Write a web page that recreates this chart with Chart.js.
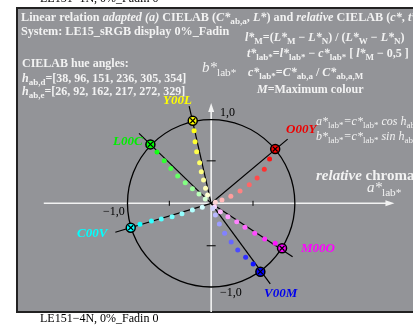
<!DOCTYPE html>
<html>
<head>
<meta charset="utf-8">
<script src="https://cdn.jsdelivr.net/npm/chart.js@4"></script>
<style>
  html, body { margin: 0; padding: 0; background: #ffffff; }
  canvas { display: block; }
</style>
</head>
<body>
<canvas id="chart" width="413" height="325"></canvas>
<script>
'use strict'
// hue names and colours
const hueNames = ['O00Y', 'Y00L', 'L00C', 'C00V', 'V00M', 'M00O'];
const hueColors = ['#ff0000', '#ffff00', '#00ff00', '#00ffff', '#0000ff', '#ff00ff'];
const labelColors = ['#ee0000', '#ffff00', '#00ee00', '#00ffff', '#0000ee', '#ff00ff'];

// maximum colour on the unit circle (a*lab*, b*lab*)
const markerA = [0.765, -0.220, -0.726, -0.961, 0.588, 0.847];
const markerB = [0.639, 0.972, 0.694, -0.287, -0.805, -0.529];
// black hue lines from the centre
const rayEndA = [0.914, -0.263, -0.862, -1.145, 0.706, 0.973];
const rayEndB = [0.756, 1.145, 0.824, -0.341, -0.949, -0.628];

// coloured steps, outer to inner
const dotA = [
  [0.698, 0.635, 0.549, 0.455, 0.345, 0.235, 0.129, 0.050],
  [-0.204, -0.192, -0.173, -0.138, -0.118, -0.091, -0.067, -0.043],
  [-0.647, -0.561, -0.482, -0.400, -0.310, -0.224, -0.145, -0.070],
  [-0.851, -0.714, -0.596, -0.467, -0.349, -0.224, -0.106],
  [0.502, 0.412, 0.318, 0.239, 0.161, 0.098, 0.051, 0.020],
  [0.765, 0.639, 0.521, 0.404, 0.306, 0.200, 0.110, 0.040]
];
const dotB = [
  [0.521, 0.400, 0.298, 0.219, 0.145, 0.082, 0.039, 0.012],
  [0.854, 0.725, 0.607, 0.478, 0.372, 0.274, 0.176, 0.098],
  [0.604, 0.501, 0.411, 0.321, 0.242, 0.172, 0.109, 0.050],
  [-0.247, -0.208, -0.185, -0.157, -0.122, -0.079, -0.047],
  [-0.714, -0.635, -0.549, -0.455, -0.353, -0.243, -0.138, -0.060],
  [-0.471, -0.420, -0.353, -0.282, -0.216, -0.157, -0.098, -0.040]
];

// axis extents and ticks
const axisA = [-2.0, 2.19];
const axisB = [-1.28, 1.18];
const tickVals = [-0.5, 0.5];

const SERIF = "'Liberation Serif', 'DejaVu Serif', serif";
const LIGHT = '#f2f2f2';

//==================================================================================================

// hex -> mixed with white
function mixWhite(hex, f){
  const r = parseInt(hex.slice(1, 3), 16);
  const g = parseInt(hex.slice(3, 5), 16);
  const b = parseInt(hex.slice(5, 7), 16);
  const m = (c) => Math.round(c + (255 - c) * f);
  return 'rgb(' + m(r) + ',' + m(g) + ',' + m(b) + ')';
}

// text with italic / bold / subscript pieces
function rich(ctx, x, y, parts, size, color){
  ctx.fillStyle = color;
  ctx.textBaseline = 'alphabetic';
  ctx.textAlign = 'left';
  let cx = x;
  parts.forEach((p) => {
    const text = p[0];
    const f = p[1] || '';
    const sub = f.includes('s');
    const sz = sub ? size * 0.75 : size;
    ctx.font = (f.includes('i') ? 'italic ' : '') + (f.includes('b') ? 'bold ' : '') + sz + 'px ' + SERIF;
    ctx.fillText(text, cx, sub ? y + size * 0.28 : y);
    cx += ctx.measureText(text).width;
  });
}

//==================================================================================================

let datasets = [];

// black hue lines
hueNames.forEach((name, i) => {
  datasets.push({
    label: name + ' line',
    data: [{x: 0, y: 0}, {x: rayEndA[i], y: rayEndB[i]}],
    showLine: true,
    borderColor: '#000000',
    borderWidth: 1.2,
    pointRadius: 0,
    order: 5
  });
});

// coloured steps
hueNames.forEach((name, i) => {
  const n = dotA[i].length;
  datasets.push({
    label: name + ' steps',
    data: dotA[i].map((a, k) => ({x: a, y: dotB[i][k]})),
    showLine: false,
    pointRadius: 2.5,
    pointBorderWidth: 0,
    pointBackgroundColor: (c) => mixWhite(hueColors[i], 0.08 + 0.75 * (c.dataIndex / (n - 1))),
    order: 3
  });
});

// maximum colour markers
datasets.push({
  label: 'markers',
  data: markerA.map((a, i) => ({x: a, y: markerB[i]})),
  showLine: false,
  pointRadius: 4.5,
  pointBorderWidth: 1.5,
  pointBorderColor: '#000000',
  pointBackgroundColor: hueColors,
  order: 1
});
datasets.push({
  label: 'marker cross',
  data: markerA.map((a, i) => ({x: a, y: markerB[i]})),
  showLine: false,
  pointStyle: 'crossRot',
  pointRadius: 3.5,
  pointBorderWidth: 1.2,
  pointBorderColor: '#000000',
  order: 0
});

//==================================================================================================

const framePlugin = {
  id: 'frame',
  beforeDraw(chart){
    const ctx = chart.ctx;
    const area = chart.chartArea;
    ctx.save();
    ctx.fillStyle = '#ffffff';
    ctx.fillRect(0, 0, chart.width, chart.height);
    ctx.fillStyle = '#939498';
    ctx.fillRect(area.left, area.top, chart.width - area.left, area.bottom - area.top);
    // frame on left, top and bottom only (right side is cut off)
    ctx.strokeStyle = '#222222';
    ctx.lineWidth = 2;
    ctx.beginPath();
    ctx.moveTo(chart.width + 2, area.top);
    ctx.lineTo(area.left, area.top);
    ctx.lineTo(area.left, area.bottom);
    ctx.lineTo(chart.width + 2, area.bottom);
    ctx.stroke();
    ctx.restore();
  },
  beforeDatasetsDraw(chart){
    const ctx = chart.ctx;
    const xs = chart.scales.x;
    const ys = chart.scales.y;
    const x0 = xs.getPixelForValue(0);
    const y0 = ys.getPixelForValue(0);
    const unit = xs.getPixelForValue(1) - x0;
    ctx.save();
    // white axes with arrows
    ctx.strokeStyle = LIGHT;
    ctx.fillStyle = LIGHT;
    ctx.lineWidth = 1.6;
    const xr = xs.getPixelForValue(axisA[1]);
    const yt = ys.getPixelForValue(axisB[1]);
    ctx.beginPath();
    ctx.moveTo(xs.getPixelForValue(axisA[0]), y0);
    ctx.lineTo(xr - 6, y0);
    ctx.moveTo(x0, ys.getPixelForValue(axisB[0]));
    ctx.lineTo(x0, yt + 6);
    ctx.stroke();
    ctx.beginPath();
    ctx.moveTo(xr, y0);
    ctx.lineTo(xr - 9, y0 - 3);
    ctx.lineTo(xr - 9, y0 + 3);
    ctx.closePath();
    ctx.moveTo(x0, yt);
    ctx.lineTo(x0 - 3, yt + 9);
    ctx.lineTo(x0 + 3, yt + 9);
    ctx.closePath();
    ctx.fill();
    // ticks
    ctx.strokeStyle = '#000000';
    ctx.lineWidth = 1;
    ctx.beginPath();
    tickVals.forEach((v) => {
      const px = xs.getPixelForValue(v);
      ctx.moveTo(px, y0 - 2.5);
      ctx.lineTo(px, y0 + 2.5);
      const py = ys.getPixelForValue(v);
      ctx.moveTo(x0 - 4.5, py);
      ctx.lineTo(x0 + 4.5, py);
    });
    ctx.stroke();
    // unit circle
    ctx.lineWidth = 1.3;
    ctx.beginPath();
    ctx.arc(x0, y0, unit, 0, Math.PI * 2);
    ctx.stroke();
    ctx.restore();
  },
  afterDraw(chart){
    const ctx = chart.ctx;
    ctx.save();
    // page captions
    rich(ctx, 40, 2, [['LE151−1N, 0%_Fadin 0']], 12, '#000000');
    rich(ctx, 40, 322, [['LE151−4N, 0%_Fadin 0']], 12, '#000000');

    rich(ctx, 21, 21, [['Linear relation ', 'b'], ['adapted (a)', 'bi'], [' CIELAB (', 'b'], ['C*', 'bi'], ['ab,a', 'bs'],
      [', ', 'b'], ['L*', 'bi'], [') and ', 'b'], ['relative', 'bi'], [' CIELAB (', 'b'], ['c*', 'bi'], [', ', 'b'],
      ['t*', 'bi'], ['lab*', 'bs'], [')', 'b']], 12.2, LIGHT);
    rich(ctx, 21, 35, [['System: LE15_sRGB display 0%_Fadin', 'b']], 12.2, LIGHT);

    rich(ctx, 245, 41, [['l*', 'bi'], ['M', 'bs'], ['=(', 'b'], ['L*', 'bi'], ['M', 'bs'], [' − ', 'b'], ['L*', 'bi'], ['N', 'bs'],
      [') / (', 'b'], ['L*', 'bi'], ['W', 'bs'], [' − ', 'b'], ['L*', 'bi'], ['N', 'bs'], [')', 'b']], 12, LIGHT);
    rich(ctx, 247, 57, [['t*', 'bi'], ['lab*', 'bs'], ['=', 'b'], ['l*', 'bi'], ['lab*', 'bs'], [' − ', 'b'], ['c*', 'bi'], ['lab*', 'bs'],
      [' [ ', 'b'], ['l*', 'bi'], ['M', 'bs'], [' − 0,5 ]', 'b']], 12, LIGHT);
    rich(ctx, 248, 76, [['c*', 'bi'], ['lab*', 'bs'], ['=', 'b'], ['C*', 'bi'], ['ab,a', 'bs'], [' / ', 'b'], ['C*', 'bi'], ['ab,a,M', 'bs']], 12, LIGHT);
    rich(ctx, 257, 93, [['M', 'bi'], ['=Maximum colour', 'b']], 12, LIGHT);

    rich(ctx, 202, 72, [['b*', 'i'], ['lab*', 's']], 15, LIGHT);

    rich(ctx, 22, 67, [['CIELAB hue angles:', 'b']], 12, LIGHT);
    rich(ctx, 22, 82, [['h', 'bi'], ['ab,d', 'bs'], ['=[38, 96, 151, 236, 305, 354]', 'b']], 12, LIGHT);
    rich(ctx, 22, 95, [['h', 'bi'], ['ab,e', 'bs'], ['=[26, 92, 162, 217, 272, 329]', 'b']], 12, LIGHT);

    rich(ctx, 316, 125, [['a*', 'i'], ['lab*', 's'], ['=', 'i'], ['c*', 'i'], ['lab*', 's'], [' cos ', 'i'], ['h', 'i'], ['ab', 's']], 12, LIGHT);
    rich(ctx, 316, 140, [['b*', 'i'], ['lab*', 's'], ['=', 'i'], ['c*', 'i'], ['lab*', 's'], [' sin ', 'i'], ['h', 'i'], ['ab', 's']], 12, LIGHT);
    rich(ctx, 316, 180, [['relative', 'bi'], [' chroma', 'b']], 15, LIGHT);
    rich(ctx, 367, 192, [['a*', 'i'], ['lab*', 's']], 15, LIGHT);

    // tick labels
    rich(ctx, 220, 116, [['1,0']], 12, '#000000');
    rich(ctx, 103, 215, [['−1,0']], 12, '#000000');
    rich(ctx, 220, 296, [['−1,0']], 12, '#000000');

    // hue names
    const namePos = [[286, 133], [163, 104], [113, 145], [77, 237], [264, 297], [301, 252]];
    hueNames.forEach((name, i) => {
      rich(ctx, namePos[i][0], namePos[i][1], [[name, 'bi']], 13, labelColors[i]);
    });
    ctx.restore();
  }
};

new Chart(document.getElementById('chart'), {
  type: 'scatter',
  data: { datasets: datasets },
  options: {
    responsive: false,
    animation: false,
    devicePixelRatio: 1,
    layout: { padding: { left: 17, top: 8, right: 0, bottom: 13 } },
    plugins: { legend: { display: false }, tooltip: { enabled: false } },
    events: [],
    scales: {
      x: { type: 'linear', display: false, min: -2.32, max: 2.34 },
      y: { type: 'linear', display: false, min: -1.28, max: 2.30 }
    }
  },
  plugins: [framePlugin]
});
</script>
</body>
</html>
